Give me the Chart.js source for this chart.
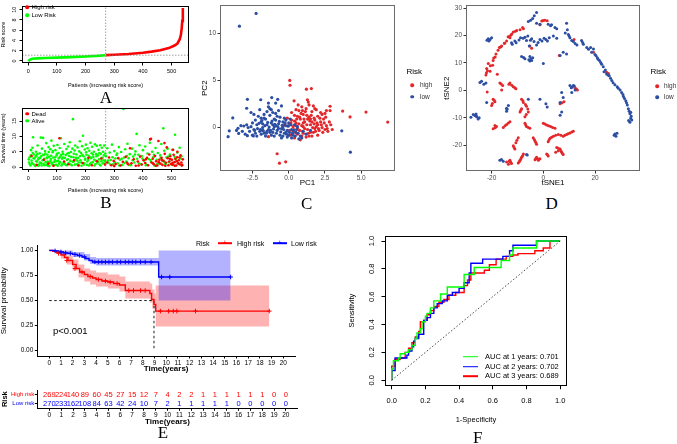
<!DOCTYPE html>
<html><head><meta charset="utf-8">
<script src="https://cdn.jsdelivr.net/npm/chart.js@4.4.1/dist/chart.umd.min.js"></script>
<style>
html,body{margin:0;padding:0;background:#fff}
body{width:677px;height:444px;position:relative;overflow:hidden;font-family:"Liberation Sans",Arial,sans-serif}
canvas{position:absolute}
.t{position:absolute;white-space:nowrap;line-height:1;transform:translateY(-50%)}
.lab{position:absolute;font-family:"Liberation Serif","Times New Roman",serif;font-size:17px;line-height:1;transform:translate(-50%,-50%)}
.dot{position:absolute;border-radius:50%;transform:translate(-50%,-50%)}
.ln{position:absolute;height:1.6px;transform:translateY(-50%)}
</style></head><body>
<canvas id="cA" style="left:0px;top:0px" width="200" height="90"></canvas>
<canvas id="cB" style="left:0px;top:98px" width="200" height="96"></canvas>
<canvas id="cC" style="left:195px;top:0px" width="205" height="190"></canvas>
<canvas id="cD" style="left:440px;top:0px" width="205" height="190"></canvas>
<canvas id="cE" style="left:0px;top:240px" width="300" height="133"></canvas>
<canvas id="cT" style="left:0px;top:386px" width="300" height="40"></canvas>
<canvas id="cF" style="left:345px;top:228px" width="228" height="197"></canvas>

<!-- A legend -->
<div class="dot" style="left:27.3px;top:7.3px;width:3.6px;height:3.6px;background:#ff0000"></div>
<div class="t" style="left:31.5px;top:7.3px;font-size:6px">High risk</div>
<div class="dot" style="left:27.3px;top:15px;width:3.6px;height:3.6px;background:#00ff00"></div>
<div class="t" style="left:31.5px;top:15px;font-size:6px">Low Risk</div>
<!-- B legend -->
<div class="dot" style="left:27.3px;top:113.7px;width:3.6px;height:3.6px;background:#ff0000"></div>
<div class="t" style="left:31.5px;top:113.7px;font-size:6px">Dead</div>
<div class="dot" style="left:27.3px;top:120.5px;width:3.6px;height:3.6px;background:#00ff00"></div>
<div class="t" style="left:31.5px;top:120.5px;font-size:6px">Alive</div>
<!-- C legend -->
<div class="t" style="left:406.5px;top:71.7px;font-size:8px">Risk</div>
<div class="dot" style="left:412px;top:85px;width:3.6px;height:3.6px;background:#e3282b"></div>
<div class="t" style="left:420px;top:85px;font-size:6.5px;color:#333">high</div>
<div class="dot" style="left:412px;top:96.7px;width:3.6px;height:3.6px;background:#2c4ea3"></div>
<div class="t" style="left:420px;top:96.7px;font-size:6.5px;color:#333">low</div>
<!-- D legend -->
<div class="t" style="left:650.5px;top:72px;font-size:8px">Risk</div>
<div class="dot" style="left:657px;top:86px;width:3.6px;height:3.6px;background:#e3282b"></div>
<div class="t" style="left:664px;top:86px;font-size:6.5px;color:#333">high</div>
<div class="dot" style="left:657px;top:97px;width:3.6px;height:3.6px;background:#2c4ea3"></div>
<div class="t" style="left:664px;top:97px;font-size:6.5px;color:#333">low</div>
<!-- E legend & p value -->
<div class="t" style="left:196px;top:243px;font-size:7px">Risk</div>
<div class="ln" style="left:218px;top:243px;width:14px;background:#ff0000"></div>
<div class="t" style="left:222.5px;top:243px;font-size:8px;color:#ff0000">+</div>
<div class="t" style="left:237px;top:243px;font-size:7px">High risk</div>
<div class="ln" style="left:273px;top:243px;width:14px;background:#0000ff"></div>
<div class="t" style="left:277.5px;top:243px;font-size:8px;color:#0000ff">+</div>
<div class="t" style="left:291px;top:243px;font-size:7px">Low risk</div>
<div class="t" style="left:53px;top:331px;font-size:9.5px">p&lt;0.001</div>
<!-- F legend -->
<div class="ln" style="left:462.7px;top:356.7px;width:15.6px;background:#00ff00"></div>
<div class="t" style="left:485px;top:356.7px;font-size:7.5px">AUC at 1 years: 0.701</div>
<div class="ln" style="left:462.7px;top:366.5px;width:15.6px;background:#0000ff"></div>
<div class="t" style="left:485px;top:366.5px;font-size:7.5px">AUC at 2 years: 0.702</div>
<div class="ln" style="left:462.7px;top:376px;width:15.6px;background:#ff0000"></div>
<div class="t" style="left:485px;top:376px;font-size:7.5px">AUC at 3 years: 0.689</div>
<!-- panel letters -->
<div class="lab" style="left:106px;top:97px">A</div>
<div class="lab" style="left:106px;top:202px">B</div>
<div class="lab" style="left:306.7px;top:203px">C</div>
<div class="lab" style="left:551.7px;top:203px">D</div>
<div class="lab" style="left:163px;top:432px">E</div>
<div class="lab" style="left:477.7px;top:437px">F</div>

<script>
// ---------------- DATA ----------------
// Panel A: risk score curve (patients sorted by risk score)
const lowRiskIdx   = [1,3,8,15,30,60,100,150,200,240,270];
const lowRiskScore = [-0.05,0.1,0.3,0.42,0.5,0.58,0.65,0.74,0.86,0.98,1.12];
const highRiskIdx   = [271,300,350,400,430,460,490,510,520,528,532,535,537,539];
const highRiskScore = [1.13,1.2,1.35,1.6,1.82,2.1,2.5,3.0,3.4,4.2,5.0,6.3,7.8,10.3];
const cutPatient = 270;
const cutScore = 1.12;
const patientTicks = [0,100,200,300,400,500];
const riskTicks = [0,2,4,6,8,10];
const survTicks = [0,5,10,15];

// Panel B: survival status (patient index, survival years)
const alivePts = [[3,1.5],[5,3.2],[8,0.5],[10,5.5],[12,2.1],[15,6.3],[17,9.7],[18,1.0],[20,4.1],[22,2.8],[25,0.3],[27,5.0],[29,3.6],[31,1.8],[33,7.0],[35,2.5],[38,0.8],[40,4.5],[42,3.0],[44,9.6],[46,1.2],[48,6.0],[50,2.2],[52,9.5],[55,3.9],[57,0.6],[59,5.2],[61,1.6],[63,7.8],[65,2.9],[67,4.0],[69,0.4],[71,6.5],[73,3.3],[75,1.4],[77,5.8],[79,2.6],[81,8.6],[83,0.9],[85,4.8],[87,3.1],[89,6.9],[91,1.7],[93,2.4],[95,5.5],[97,0.7],[99,3.8],[102,7.2],[104,2.0],[106,4.6],[108,1.1],[110,6.2],[112,3.4],[114,9.4],[116,0.5],[118,2.7],[120,5.0],[122,4.2],[124,1.5],[126,7.5],[128,3.0],[130,0.8],[133,5.9],[135,2.3],[137,4.4],[139,6.7],[141,1.3],[143,3.6],[145,8.1],[147,2.0],[149,4.9],[152,0.6],[154,6.0],[156,15.6],[158,3.2],[160,1.9],[162,5.4],[164,7.0],[166,2.6],[168,4.1],[170,0.9],[172,6.4],[174,3.0],[176,1.5],[178,5.1],[180,8.4],[182,2.2],[184,4.6],[186,0.4],[188,6.8],[191,10.2],[193,3.5],[195,1.2],[197,5.7],[199,2.8],[201,7.3],[203,4.0],[205,0.7],[207,6.1],[209,2.4],[211,3.7],[213,5.3],[215,1.0],[217,7.9],[219,2.9],[221,4.5],[223,6.6],[225,1.6],[227,3.3],[229,5.0],[231,0.5],[233,7.4],[235,2.1],[237,4.2],[239,6.9],[241,1.3],[243,3.8],[245,5.6],[247,2.5],[249,0.8],[251,7.1],[253,4.3],[255,1.9],[257,6.3],[259,3.0],[261,5.0],[263,2.2],[265,7.0],[267,1.1],[269,4.4],[272,3.5],[276,6.1],[280,1.4],[284,4.7],[288,2.3],[292,7.3],[296,0.9],[300,5.2],[304,2.8],[308,3.9],[312,1.2],[316,6.5],[320,2.4],[324,4.9],[328,0.7],[332,18.9],[334,3.1],[338,5.8],[342,1.8],[346,7.6],[350,2.9],[354,4.2],[358,0.6],[362,6.0],[366,3.4],[370,1.5],[374,5.1],[378,10.8],[380,2.7],[384,4.0],[388,7.1],[392,1.0],[396,3.6],[400,5.5],[404,2.1],[408,6.7],[412,0.8],[416,4.4],[420,2.6],[424,7.9],[428,1.7],[432,5.0],[436,3.2],[440,0.5],[444,6.2],[448,2.4],[452,4.6],[456,1.2],[460,3.8],[464,7.5],[468,2.0],[471,12.6],[474,5.3],[478,0.9],[482,3.1],[486,6.0],[490,1.6],[494,4.1],[498,2.5],[502,5.6],[506,0.7],[510,3.4],[512,10.5],[516,2.0],[520,4.7],[524,1.3],[528,6.3],[532,2.8],[536,0.6],
  [2,2.5],[6,0.9],[9,3.8],[13,1.3],[16,4.6],[19,2.9],[23,0.6],[26,3.4],[28,1.9],[32,4.2],[36,0.4],[37,2.9],[41,1.5],[45,3.5],[47,0.5],[51,4.0],[54,1.0],[56,2.7],[60,4.4],[64,0.7],[66,3.1],[68,1.8],[72,4.9],[74,0.3],[78,2.0],[80,3.7],[84,1.4],[86,5.2],[90,0.6],[94,3.2],[98,1.9],[100,4.3],[103,0.4],[107,2.9],[111,1.6],[115,4.0],[119,0.9],[121,3.1],[127,1.2],[131,3.9],[134,0.6],[138,2.5],[142,4.6],[146,0.9],[150,3.3],[155,1.7],[159,4.3],[163,0.8],[167,3.0],[171,2.1],[177,0.6],[181,3.6],[185,1.5],[189,4.0],[194,0.8],[198,2.4],[202,4.8],[206,1.8],[212,0.5],[216,3.2],[220,1.4],[226,4.1],[230,2.4],[234,0.9],[238,3.5],[244,1.7],[248,4.6],[252,0.5],[256,2.9],[260,1.2],[264,3.8],[268,2.0],[278,2.1],[286,0.8],[294,3.2],[302,1.6],[310,4.4],[318,0.5],[326,2.7],[336,1.3],[344,3.6],[352,0.7],[364,2.2],[372,4.1],[386,1.2],[398,2.8],[410,0.6],[426,2.3],[438,4.0],[450,1.0],[462,2.9],[476,1.6],[488,3.4],[500,0.8],[514,2.6],[526,1.0],[534,3.5]];
const deadPts = [[12,3.6],[30,0.7],[55,2.4],[70,1.1],[88,0.4],[109,9.4],[125,1.8],[140,0.9],[160,2.2],[175,0.5],[190,1.3],[210,3.0],[222,0.6],[240,1.9],[255,2.8],[268,0.8],[275,1.5],[282,3.1],[290,0.6],[298,2.0],[305,1.0],[314,2.9],[322,0.5],[330,1.7],[340,3.3],[348,0.9],[355,6.1],[360,1.2],[368,2.5],[375,0.4],[382,1.8],[390,3.4],[396,0.8],[402,2.2],[408,1.3],[414,3.0],[418,0.6],[422,4.1],[425,9.0],[428,9.2],[430,1.5],[434,2.7],[438,0.9],[442,3.6],[446,1.9],[450,0.5],[454,8.5],[457,2.4],[461,1.1],[465,3.0],[468,0.7],[472,2.0],[476,4.3],[480,1.4],[483,6.4],[486,2.9],[489,0.6],[492,1.8],[495,3.5],[498,1.0],[501,2.4],[504,0.8],[507,4.0],[510,1.6],[513,2.7],[516,0.5],[519,3.2],[522,1.2],[525,2.2],[528,0.9],[531,3.8],[534,1.5],[537,0.7],[539,2.5],
  [435,1.2],[445,0.4],[455,1.6],[466,2.3],[478,0.4],[494,2.6],[503,1.4],[511,0.4],[518,1.9],[527,3.1],[535,0.5],[520,5.0],[505,5.6],[475,7.8],[410,2.5],[385,0.5],[345,1.4],[300,0.3]];

// Panel C: PCA (PC1, PC2)
const pcaLow = [[-2.25,12.1],[-3.4,10.75],[-4.18,-0.96],[-4.1,-0.34],[-3.86,1.03],[-2.85,3.0],[-2.9,2.05],[-1.93,2.95],[-1.17,3.18],[-0.76,3.0],[-3.5,-0.07],[-3.45,-0.62],[-3.1,0.17],[-2.85,-0.86],[-2.44,-0.89],[3.66,-0.34],[4.25,-2.6],[-2.6,0.1],[-2.4,-0.2],[-2.2,0.3],[-2.0,-0.4],[-1.9,0.6],[-1.8,0.0],[-1.7,-0.6],[-1.6,0.9],[-1.5,0.3],[-1.4,-0.2],[-1.3,1.3],[-1.2,0.5],[-1.1,-0.5],[-1.0,0.1],[-0.9,0.8],[-0.8,-0.3],[-0.7,0.4],[-0.6,1.1],[-0.5,-0.1],[-0.4,0.6],[-0.3,-0.6],[-0.2,0.2],[-0.1,-0.3],[0.0,0.5],[0.2,-0.2],[0.3,-0.8],[0.5,-0.5],[0.7,-1.2],[0.8,-0.9],[1.0,-0.4],[1.2,-0.7],[-1.4,2.2],[-1.3,2.0],[-1.5,1.7],[-1.1,1.6],[-0.9,1.5],[-2.1,1.2],[-2.3,0.8],[-2.7,-0.4],[-2.9,0.3],[-3.2,-0.4],[-1.6,-0.9],[-1.2,-0.8],[-0.6,-0.8],[-0.4,-0.9],[-0.1,-1.0],[-1.8,0.4],[-1.0,0.9],[-0.8,1.2],[-0.3,1.0],[0.1,0.9],[-0.5,2.3],[-0.9,2.6],[-1.4,2.6],[-2.6,1.6],[-2.0,1.9],[-1.7,1.0],[0.4,0.3],[0.6,0.1],[1.5,-0.3],[-0.2,-0.5],[-1.9,-0.7],[-2.3,-0.6],[0.9,-1.1],[0.0,-0.8],[-1.1,0.3],[-1.5,-0.4],[-0.7,-0.1],[-1.3,-0.5],[-0.9,0.2],[-2.5,-0.8],[-1.8,-0.3],[-0.4,0.1],
  [-2.8,0.0],[-2.5,0.5],[-2.35,-0.3],[-2.15,-0.1],[-2.05,0.45],[-1.95,-0.2],[-1.85,0.75],[-1.75,-0.35],[-1.65,0.2],[-1.55,-0.6],[-1.45,0.55],[-1.35,0.05],[-1.25,-0.3],[-1.15,0.7],[-1.05,-0.15],[-0.95,0.35],[-0.85,-0.6],[-0.75,0.1],[-0.65,0.65],[-0.55,-0.45],[-0.45,0.25],[-0.35,-0.2],[-0.25,0.5],[-0.15,-0.7],[-0.05,0.15],[0.05,-0.5],[0.15,0.3],[0.25,-0.6],[0.35,-0.3],[0.45,-0.9],[0.55,-0.2],[0.65,-0.6],[-1.7,1.4],[-1.2,1.9],[-0.7,1.8],[-2.4,1.4],[-3.0,-0.7],[-3.3,0.2],[-3.6,-0.3],[-2.2,-0.9],[-1.0,-0.9],[-0.5,-1.1],[0.2,-1.1],[-1.9,1.0],[-0.2,0.8]];
const pcaHigh = [[0.07,5.0],[0.09,4.49],[1.22,4.07],[1.56,4.14],[0.37,2.84],[1.29,2.95],[1.35,2.7],[2.85,2.26],[2.85,1.8],[3.72,1.75],[4.23,1.13],[5.33,1.64],[6.83,0.58],[-0.8,-2.77],[-0.64,-3.77],[-0.21,-3.63],[-1.4,-0.96],[0.0,0.2],[0.2,0.8],[0.3,-0.4],[0.4,1.3],[0.5,0.5],[0.6,-0.1],[0.7,1.8],[0.8,0.9],[0.9,0.2],[1.0,1.4],[1.0,-0.6],[1.1,0.6],[1.2,2.0],[1.3,-0.2],[1.4,1.1],[1.5,0.3],[1.6,1.7],[1.7,-0.5],[1.8,0.8],[1.9,0.1],[2.0,1.2],[2.1,-0.3],[2.2,0.6],[2.3,0.0],[2.4,0.9],[2.6,0.2],[2.7,-0.4],[1.4,2.4],[1.7,2.3],[0.9,2.2],[0.5,1.9],[0.2,1.6],[0.1,-0.8],[0.4,-1.1],[0.8,-1.3],[1.2,-1.0],[1.6,-0.9],[2.0,-0.8],[0.6,-0.7],[1.9,1.9],[2.5,1.5],[0.3,0.1],[1.1,-0.1],[1.8,-0.1],[0.7,0.4],[1.3,0.9],[-0.1,1.0],[-0.3,0.3],[0.05,-0.3],[2.2,1.6],[1.5,-0.5],[0.9,-0.9],[1.6,0.6],[0.4,0.7],[2.9,0.3],[2.5,-0.2],[1.0,0.1],[0.6,1.2],
  [0.15,0.5],[0.35,-0.2],[0.55,0.9],[0.75,-0.3],[0.85,1.5],[0.95,-0.4],[1.05,0.9],[1.15,1.7],[1.25,0.3],[1.35,-0.6],[1.45,0.7],[1.55,1.3],[1.65,0.0],[1.75,1.0],[1.85,-0.4],[1.95,0.5],[2.05,-0.1],[2.15,1.0],[2.25,0.3],[2.35,-0.5],[2.45,0.5],[2.55,1.1],[2.65,-0.1],[2.8,0.6],[3.0,-0.2],[0.25,-0.7],[0.5,0.2],[0.75,1.1],[1.0,0.5],[1.25,1.3],[1.5,0.9],[1.75,0.4],[2.0,0.3],[0.45,-0.5],[0.95,1.8],[1.4,-0.9],[2.3,1.4],[0.65,2.4],[1.8,2.0],[2.6,1.8]];

// Panel D: t-SNE (tSNE1, tSNE2)
const tsneLow = [[-2.6,28.4],[-4.9,25.6],[-4.1,26.2],[-5.8,25.1],[-2.6,24.5],[-1.3,24.1],[1.9,24.1],[2.8,23.6],[4.5,22.9],[5.2,22.5],[9.0,24.5],[9.3,22.1],[9.7,20.4],[10.3,19.2],[11.0,18.2],[12.3,17.1],[14.8,18.2],[15.5,16.8],[16.8,15.6],[18.3,15.6],[19.4,15.1],[18.7,13.9],[20.0,13.1],[20.9,11.9],[21.7,10.9],[22.6,9.5],[23.2,8.6],[23.5,6.8],[24.5,6.0],[25.5,5.3],[26.5,3.6],[27.7,2.1],[28.6,1.3],[29.7,0.1],[30.3,-0.8],[31.0,-2.2],[31.9,-3.8],[32.5,-5.3],[32.9,-6.7],[33.5,-8.5],[33.8,-10.2],[33.5,-11.6],[27.7,-15.9],[28.1,-16.7],[27.4,-16.4],[-21.3,18.8],[-20.0,19.2],[-12.3,17.4],[-11.0,18.0],[-8.8,19.2],[-7.1,19.4],[-6.5,18.2],[-4.5,18.8],[-3.6,17.8],[-2.6,16.6],[-1.3,18.6],[1.0,18.6],[2.3,19.2],[3.9,19.8],[-5.4,16.2],[-8.4,12.4],[-7.1,11.5],[-5.2,12.4],[-4.5,10.9],[-4.1,11.9],[-5.2,10.7],[0.0,9.8],[6.5,12.7],[7.7,13.9],[9.0,13.3],[10.3,1.8],[11.6,1.8],[12.3,0.1],[11.0,-0.8],[7.1,-0.8],[7.7,-2.6],[6.5,-4.4],[-23.9,3.3],[-22.2,2.7],[-21.9,-4.4],[-27.1,-8.8],[-25.8,-9.6],[-24.8,-10.0],[-14.2,-6.5],[-13.5,-5.5],[-14.2,-7.6],[-5.8,-3.2],[-1.3,-3.2],[1.0,-4.9],[1.5,-6.1],[6.5,-9.1],[7.1,-7.9],[-16.8,-25.5],[-15.5,-25.8],[-6.5,-23.4],[29.0,0.8],[30.8,-1.5],[32.2,-4.5],[33.2,-7.6],[34.0,-9.4],[26.0,4.4],[24.0,7.4],[21.2,11.4],[17.5,15.0],[13.0,16.6],[8.5,20.9],[3.2,23.9],[-3.5,27.2],[-0.5,18.0],[5.2,19.0],[-9.4,18.4],[-21.0,18.0],[-23.0,2.2],[-26.5,-9.2],[-28.0,-9.8],[28.5,-15.6],[33.0,-11.0],
  [-21.8,18.3],[-20.6,18.6],[-12.0,16.8],[-10.5,17.4],[-7.8,19.0],[-6.0,19.8],[-5.0,18.3],[-2.0,17.5],[0.3,19.0],[1.6,18.0],[-7.6,12.0],[-4.8,11.5],[-5.6,11.2],[10.0,19.8],[11.6,17.8],[15.2,17.5],[20.4,12.6],[22.2,10.2],[25.0,5.6],[27.0,2.8],[31.4,-3.0],[33.8,-8.0],[34.2,-10.8],[-24.5,2.9],[-25.9,-9.3],[-25.2,-10.4],[-26.0,-8.6],[11.2,1.2],[12.0,1.6],[10.8,1.0],[-6.2,-23.6],[-16.2,-25.2],[-14.0,-6.9]];
const tsneHigh = [[-0.6,25.3],[0.6,25.6],[1.5,25.4],[-1.3,23.9],[11.9,18.6],[6.2,12.7],[19.4,13.9],[24.5,6.6],[25.2,6.2],[-7.7,22.5],[-9.0,22.1],[-10.3,21.8],[-11.6,21.3],[-12.6,20.1],[-12.9,19.2],[-14.2,18.0],[-16.1,16.2],[-17.0,15.6],[-18.3,13.3],[-19.4,10.9],[-19.6,9.2],[-21.3,9.8],[-21.9,8.0],[-22.2,5.6],[-17.8,5.9],[-5.2,16.2],[-4.5,15.4],[-16.8,2.7],[-15.7,1.8],[-12.9,2.7],[-11.6,1.3],[-10.6,0.6],[-16.1,0.1],[-19.4,-3.2],[-18.7,-4.1],[-20.0,-5.5],[-21.7,-0.6],[-8.4,-3.2],[-7.7,-4.4],[-6.5,-5.8],[-5.8,-7.9],[-7.1,-9.6],[-9.0,-7.9],[-8.4,-6.7],[-12.9,-11.4],[-14.2,-12.4],[-15.5,-13.5],[-18.1,-13.2],[-19.4,-14.0],[-18.7,-12.8],[-7.1,-12.0],[-6.5,-13.2],[-5.2,-13.8],[0.0,-12.0],[1.3,-12.6],[2.8,-13.2],[4.5,-13.8],[6.5,-4.9],[8.0,-4.1],[12.3,0.9],[13.2,0.1],[11.6,-14.9],[10.3,-15.5],[9.0,-16.1],[7.7,-16.7],[5.8,-16.1],[3.9,-16.7],[2.6,-17.5],[1.9,-18.7],[5.2,-20.8],[6.5,-21.4],[7.1,-22.6],[7.7,-23.4],[5.8,-22.0],[4.8,-22.6],[-3.9,-17.3],[-3.2,-18.5],[-2.6,-19.6],[-9.7,-17.3],[-10.6,-19.1],[-11.6,-20.2],[-11.0,-21.4],[-7.7,-23.2],[-8.4,-24.4],[-9.0,-25.5],[-9.7,-26.5],[-2.6,-24.4],[-1.9,-25.5],[-3.2,-25.3],[-1.3,-24.9],[1.3,-23.2],[1.9,-23.9],[-14.2,-26.1],[-12.9,-25.5],[-12.3,-26.7],[-13.5,-26.9],[-13.6,19.6],[-20.6,7.0],[-17.5,14.6],[-15.0,17.2],
  [-8.0,22.9],[-10.8,21.6],[-12.2,20.6],[-13.2,19.6],[-15.0,17.2],[-16.5,15.8],[-18.6,12.2],[-19.2,11.8],[-20.5,9.0],[-21.6,7.2],[-22.0,6.4],[-16.3,2.3],[-13.3,2.2],[-12.2,1.9],[-11.0,1.0],[-19.0,-3.6],[-19.7,-4.8],[-7.9,-3.8],[-6.9,-5.1],[-6.0,-6.8],[-6.6,-8.8],[-8.7,-7.2],[-13.5,-11.9],[-14.8,-12.9],[-18.6,-13.6],[-6.8,-12.6],[-5.8,-13.5],[0.6,-12.3],[2.0,-12.9],[3.6,-13.5],[11.0,-15.2],[9.6,-15.8],[8.3,-16.4],[6.8,-16.4],[4.8,-16.4],[3.2,-17.1],[2.2,-18.1],[5.8,-21.1],[6.8,-22.0],[7.4,-23.0],[-3.5,-17.9],[-2.9,-19.0],[-10.2,-18.2],[-11.3,-20.8],[-8.0,-23.8],[-8.7,-25.0],[-9.3,-26.0],[-2.2,-24.9],[-2.9,-24.8],[1.6,-23.5],[-13.2,-25.8],[-12.6,-26.2],[-0.1,25.5],[12.8,0.5],[7.2,-4.5]];

// Panel E: Kaplan-Meier (time in years, survival probability)
const kmHigh = [[0,1],[0.3,0.99],[0.6,0.98],[1,0.955],[1.3,0.93],[1.6,0.9],[2,0.86],[2.3,0.82],[2.6,0.785],[3,0.76],[3.3,0.74],[3.7,0.725],[4,0.71],[4.5,0.695],[5,0.685],[5.5,0.67],[6,0.655],[6.5,0.6],[8.6,0.57],[8.75,0.51],[8.95,0.46],[9.1,0.395],[18.8,0.395]];
const kmHighUpper = [[0,1],[1,0.99],[1.5,0.95],[2,0.91],[2.5,0.86],[3,0.82],[3.5,0.8],[4,0.78],[5,0.76],[6,0.74],[6.5,0.69],[8.6,0.67],[8.8,0.61],[9.0,0.57],[9.1,0.65],[18.8,0.65]];
const kmHighLower = [[0,0.99],[1,0.92],[1.5,0.86],[2,0.8],[2.5,0.73],[3,0.69],[3.5,0.66],[4,0.64],[5,0.62],[6,0.59],[6.5,0.52],[8.6,0.48],[8.8,0.42],[9.0,0.38],[9.1,0.24],[18.8,0.24]];
const kmLow = [[0,1],[0.4,0.995],[0.8,0.985],[1.2,0.975],[1.6,0.97],[2,0.96],[2.4,0.95],[2.8,0.935],[3.1,0.92],[3.4,0.9],[3.7,0.885],[9.35,0.735],[15.5,0.735]];
const kmLowUpper = [[0,1],[1,1],[2,0.985],[3,0.965],[3.5,0.935],[4,0.925],[9.35,1.0],[15.5,1.0]];
const kmLowLower = [[0,0.99],[1,0.955],[2,0.935],[3,0.9],[3.5,0.865],[4,0.85],[9.35,0.5],[15.5,0.5]];
const censorHigh = [[0.8,0.97],[1.5,0.9],[2.2,0.82],[2.8,0.785],[3.5,0.74],[4.2,0.71],[4.8,0.695],[5.2,0.685],[5.8,0.67],[6.8,0.6],[7.2,0.6],[7.8,0.6],[8.2,0.6],[9.5,0.395],[10.2,0.395],[10.6,0.395],[10.9,0.395],[12.5,0.395],[18.8,0.395]];
const censorLow = [[0.5,0.995],[1.0,0.985],[1.4,0.975],[1.8,0.97],[2.2,0.96],[2.6,0.95],[3.0,0.935],[3.9,0.885],[4.2,0.885],[4.5,0.885],[4.8,0.885],[5.1,0.885],[5.4,0.885],[5.8,0.885],[6.1,0.885],[6.5,0.885],[6.8,0.885],[7.1,0.885],[7.4,0.885],[7.8,0.885],[8.2,0.885],[8.7,0.885],[9.6,0.735],[10.3,0.735],[15.5,0.735]];
const medianTime = 8.95;
const timeTicks = [0,1,2,3,4,5,6,7,8,9,10,11,12,13,14,15,16,17,18,19,20];
const survProbTicks = [0,0.25,0.5,0.75,1];
const survProbLabels = ['0.00','0.25','0.50','0.75','1.00'];
const riskGroups = ['High risk','Low risk'];
const atRiskHigh = [269,224,140,89,60,45,27,15,12,7,4,2,2,1,1,1,1,1,1,0,0];
const atRiskLow  = [270,233,162,108,84,63,42,24,10,7,2,1,1,1,1,1,0,0,0,0,0];

// Panel C/D ticks
const pcaXTicks = [-2.5,0,2.5,5];
const pcaXLabels = ['-2.5','0.0','2.5','5.0'];
const pcaYTicks = [0,5,10];
const tsneXTicks = [-20,0,20];
const tsneYTicks = [-20,-10,0,10,20,30];

// Panel F: time-dependent ROC (1-specificity, sensitivity)
const roc1 = [[0,0],[0,0.08],[0.01,0.14],[0.04,0.16],[0.05,0.19],[0.08,0.2],[0.1,0.22],[0.12,0.25],[0.14,0.3],[0.15,0.34],[0.17,0.37],[0.18,0.42],[0.2,0.46],[0.21,0.48],[0.23,0.52],[0.25,0.57],[0.29,0.57],[0.29,0.62],[0.33,0.62],[0.33,0.67],[0.42,0.67],[0.43,0.76],[0.48,0.76],[0.49,0.81],[0.64,0.81],[0.65,0.86],[0.68,0.86],[0.7,0.9],[0.72,0.95],[0.86,0.95],[0.86,1.0],[1,1]];
const roc2 = [[0,0],[0,0.07],[0.02,0.12],[0.02,0.16],[0.06,0.16],[0.09,0.18],[0.1,0.21],[0.12,0.24],[0.13,0.28],[0.14,0.3],[0.16,0.33],[0.18,0.33],[0.19,0.43],[0.21,0.45],[0.23,0.48],[0.25,0.52],[0.27,0.55],[0.3,0.57],[0.33,0.61],[0.36,0.63],[0.4,0.66],[0.43,0.7],[0.46,0.77],[0.47,0.84],[0.54,0.87],[0.6,0.87],[0.66,0.89],[0.7,0.93],[0.72,0.97],[0.86,0.97],[0.86,1],[1,1]];
const roc3 = [[0,0],[0,0.1],[0.02,0.15],[0.05,0.16],[0.08,0.2],[0.1,0.23],[0.12,0.27],[0.14,0.31],[0.16,0.35],[0.17,0.42],[0.19,0.43],[0.21,0.47],[0.23,0.5],[0.25,0.53],[0.28,0.56],[0.31,0.58],[0.34,0.61],[0.38,0.63],[0.41,0.63],[0.43,0.68],[0.45,0.72],[0.47,0.77],[0.52,0.77],[0.55,0.79],[0.58,0.83],[0.62,0.87],[0.66,0.87],[0.68,0.89],[0.72,0.9],[0.75,0.91],[0.85,0.93],[0.9,0.95],[0.94,0.97],[0.94,1.0],[1,1]];
const rocTicks = [0,0.2,0.4,0.6,0.8,1.0];
const rocLabels = ['0.0','0.2','0.4','0.6','0.8','1.0'];

// ---------------- RENDER ----------------
const FONT = '"Liberation Sans", Arial, Helvetica, sans-serif';
Chart.defaults.font.family = FONT;
Chart.defaults.color = '#000';
const xy = a => a.map(p => ({x: p[0], y: p[1]}));

const boxPlug = {id:'box', afterDraw(ch, a, o){
  if(!o || !o.color) return;
  const {left, top, right, bottom} = ch.chartArea, c = ch.ctx;
  c.save(); c.strokeStyle = o.color; c.lineWidth = o.width || 1;
  c.strokeRect(Math.round(left)+0.5, Math.round(top)+0.5, Math.round(right)-Math.round(left)-1, Math.round(bottom)-Math.round(top)-1);
  c.restore();
}};
const rotPlug = {id:'rotY', afterDraw(ch, a, o){
  if(!o || o.x === undefined) return;
  const s = ch.scales.y, c = ch.ctx;
  c.save(); c.font = o.font; c.fillStyle = o.color || '#000'; c.textAlign = 'center'; c.textBaseline = 'middle';
  s.ticks.forEach((t, i) => {
    c.save(); c.translate(o.x, s.getPixelForTick(i)); c.rotate(-Math.PI/2);
    c.fillText(o.labels[i], 0, 0); c.restore();
  });
  c.restore();
}};
const tablePlug = {id:'tbl', afterDraw(ch, a, o){
  if(!o || !o.rows) return;
  const x = ch.scales.x, y = ch.scales.y, c = ch.ctx;
  c.save(); c.font = o.font; c.textAlign = 'center'; c.textBaseline = 'middle';
  o.rows.forEach(r => {
    const py = y.getPixelForValue(r.idx);
    c.fillStyle = r.color;
    r.vals.forEach((v, i) => c.fillText(String(v), x.getPixelForValue(timeTicks[i]), py));
  });
  c.restore();
}};

function axis(o){
  const ax = {
    type: o.type || 'linear', position: o.pos,
    afterFit: s => { if (o.pos === 'bottom') s.height = o.size; else s.width = o.size; },
    ticks: { display: true, font: {size: o.fs}, color: o.tc || '#000', padding: o.tp, autoSkip: false, maxRotation: 0, minRotation: 0 },
    grid: { drawOnChartArea: false, drawTicks: true, tickLength: o.tl, color: o.gc || '#000', tickColor: o.gc || '#000', tickWidth: 1 },
    border: { display: o.border !== false, color: o.gc || '#000', width: 1 },
    title: { display: !!o.title, text: o.title, font: {size: o.tfs, weight: o.tw || 'normal', lineHeight: 1}, color: '#000', padding: {top: o.tpad || 0, bottom: o.tpad || 0} }
  };
  if (o.min !== undefined) { ax.min = o.min; ax.max = o.max; }
  if (o.ticks) {
    ax.afterBuildTicks = s => { s.ticks = o.ticks.map(v => ({value: v})); };
    ax.ticks.callback = (v, i) => (o.labels ? o.labels[i] : String(o.ticks[i]));
  }
  if (o.labelsCat) ax.labels = o.labelsCat;
  if (o.tcolor) ax.ticks.color = o.tcolor;
  if (o.hideLabels) ax.ticks.color = 'rgba(0,0,0,0)';
  if (o.offset !== undefined) ax.offset = o.offset;
  return ax;
}
function base(padding, scales, plugins){
  return { responsive: false, animation: false, devicePixelRatio: 1, events: [],
    layout: {padding}, scales,
    plugins: Object.assign({legend: {display: false}, tooltip: {enabled: false}}, plugins || {}) };
}
const ptDs = (arr, col, r) => ({data: xy(arr), showLine: false, pointRadius: r, pointBackgroundColor: col, pointBorderWidth: 0, pointHoverRadius: 0});
const lineDs = (arr, col, w, extra) => Object.assign({data: xy(arr), borderColor: col, borderWidth: w, pointRadius: 0, fill: false, tension: 0}, extra || {});

// ---- Panel A ----
new Chart(document.getElementById('cA'), {
  type: 'line',
  data: { datasets: [
    lineDs([[-21.5, cutScore],[560.5, cutScore]], '#888', 0.8, {borderDash: [1.5,1.5]}),
    lineDs([[cutPatient, -0.4],[cutPatient, 10.65]], '#888', 0.8, {borderDash: [1.5,1.5]}),
    lineDs(lowRiskIdx.map((v,i)=>[v, lowRiskScore[i]]), '#00ff00', 2.6),
    lineDs(highRiskIdx.map((v,i)=>[v, highRiskScore[i]]), '#ff0000', 2.6)
  ]},
  options: base({left:0, top:0.5, right:11, bottom:2}, {
    x: axis({pos:'bottom', min:-21.5, max:560.5, size:25, fs:5.5, tl:2.5, tp:3, ticks:patientTicks, title:'Patients (increasing risk score)', tfs:5.5, border:false}),
    y: axis({pos:'left', min:-0.4, max:10.65, size:22, fs:5.5, tl:2.5, tp:3, ticks:riskTicks, hideLabels:true, title:'Risk score', tfs:5.5, tpad:1, border:false})
  }, {box: {color:'#000', width:1}, rotY: {x:14, font:'5.5px '+FONT, labels: riskTicks.map(String)}}),
  plugins: [boxPlug, rotPlug]
});

// ---- Panel B ----
new Chart(document.getElementById('cB'), {
  type: 'line',
  data: { datasets: [
    lineDs([[cutPatient, -0.8],[cutPatient, 19.4]], '#888', 0.8, {borderDash: [1.5,1.5]}),
    ptDs(deadPts, '#ff0000', 1.3),
    ptDs(alivePts, '#00ff00', 1.3)
  ]},
  options: base({left:0, top:9.5, right:11, bottom:1}, {
    x: axis({pos:'bottom', min:-21.5, max:560.5, size:23.5, fs:5.5, tl:2.5, tp:3, ticks:patientTicks, title:'Patients (increasing risk score)', tfs:5.5, border:false}),
    y: axis({pos:'left', min:-0.8, max:19.4, size:22, fs:5.5, tl:2.5, tp:3, ticks:survTicks, hideLabels:true, title:'Survival time (years)', tfs:5.5, tpad:1, border:false})
  }, {box: {color:'#000', width:1}, rotY: {x:14, font:'5.5px '+FONT, labels: survTicks.map(String)}}),
  plugins: [boxPlug, rotPlug]
});

// ---- Panel C ----
new Chart(document.getElementById('cC'), {
  type: 'line',
  data: { datasets: [ ptDs(pcaLow, '#2c4ea3', 1.6), ptDs(pcaHigh, '#e3282b', 1.6) ]},
  options: base({left:0, top:0.5, right:5, bottom:3}, {
    x: axis({pos:'bottom', min:-4.74, max:7.33, size:16, fs:6.5, tc:'#4d4d4d', gc:'#333', tl:2.5, tp:1, ticks:pcaXTicks, labels:pcaXLabels, title:'PC1', tfs:8, border:false}),
    y: axis({pos:'left', min:-4.6, max:12.95, size:25, fs:6.5, tc:'#4d4d4d', gc:'#333', tl:2.5, tp:1.5, ticks:pcaYTicks, title:'PC2', tfs:8, tpad:6, border:false})
  }, {box: {color:'#6b6b6b', width:1}}),
  plugins: [boxPlug]
});

// ---- Panel D ----
new Chart(document.getElementById('cD'), {
  type: 'line',
  data: { datasets: [ ptDs(tsneLow, '#2c4ea3', 1.5), ptDs(tsneHigh, '#e3282b', 1.5) ]},
  options: base({left:0, top:0.5, right:5, bottom:3}, {
    x: axis({pos:'bottom', min:-29.9, max:37.4, size:16, fs:6.5, tc:'#4d4d4d', gc:'#333', tl:2.5, tp:1, ticks:tsneXTicks, title:'tSNE1', tfs:8, border:false}),
    y: axis({pos:'left', min:-29.4, max:31, size:26, fs:6.5, tc:'#4d4d4d', gc:'#333', tl:2.5, tp:1.5, ticks:tsneYTicks, title:'tSNE2', tfs:8, tpad:3, border:false})
  }, {box: {color:'#6b6b6b', width:1}}),
  plugins: [boxPlug]
});

// ---- Panel E: KM curves ----
const bandStyle = (col) => ({pointRadius: 0, borderWidth: 0, borderColor: 'rgba(0,0,0,0)', stepped: 'before', order: 10, backgroundColor: col});
new Chart(document.getElementById('cE'), {
  type: 'line',
  data: { datasets: [
    Object.assign({data: xy(kmLowUpper), fill: '+1'}, bandStyle('rgba(0,0,255,0.3)')),
    Object.assign({data: xy(kmLowLower), fill: false}, bandStyle('rgba(0,0,255,0.3)')),
    Object.assign({data: xy(kmHighUpper), fill: '+1'}, bandStyle('rgba(255,0,0,0.3)')),
    Object.assign({data: xy(kmHighLower), fill: false}, bandStyle('rgba(255,0,0,0.3)')),
    lineDs([[0,0.5],[medianTime,0.5],[medianTime,0]], '#000', 0.9, {borderDash:[2.5,2.5], order: 3}),
    lineDs(kmLow, '#0000ff', 1.4, {stepped: 'before', order: 2}),
    lineDs(kmHigh, '#ff0000', 1.4, {stepped: 'before', order: 2}),
    {data: xy(censorLow), showLine: false, pointStyle: 'cross', pointRadius: 2.3, borderColor: '#0000ff', pointBorderColor: '#0000ff', pointBorderWidth: 1, order: 1},
    {data: xy(censorHigh), showLine: false, pointStyle: 'cross', pointRadius: 2.3, borderColor: '#ff0000', pointBorderColor: '#ff0000', pointBorderWidth: 1, order: 1}
  ]},
  options: base({left:0, top:5, right:2.3, bottom:0.7}, {
    x: axis({pos:'bottom', min:-1.02, max:21, size:16.3, fs:6.5, tl:2.5, tp:1, ticks:timeTicks, title:'Time(years)', tfs:8, tw:'bold'}),
    y: axis({pos:'left', min:-0.053, max:1.05, size:37.3, fs:6.5, tl:2.5, tp:1.5, ticks:survProbTicks, labels:survProbLabels, title:'Survival probability', tfs:8, tpad:0})
  }),
  plugins: []
});

// ---- Panel E: risk table ----
new Chart(document.getElementById('cT'), {
  type: 'line',
  data: { datasets: [{data: [], pointRadius: 0}] },
  options: base({left:0, top:4, right:2.3, bottom:0}, {
    x: axis({pos:'bottom', min:-1.02, max:21, size:17.7, fs:6.5, tl:2.5, tp:0.5, ticks:timeTicks, title:'Time(years)', tfs:8, tw:'bold'}),
    y: axis({pos:'left', type:'category', labelsCat: riskGroups, offset:true, size:37.3, fs:6, tl:2.5, tp:0.5, tcolor: c => (c.index === 0 ? '#ff0000' : '#0000ff'), title:'Risk', tfs:7.5, tw:'bold', tpad:1})
  }, {tbl: {font: '7.5px '+FONT, rows: [{idx:0, color:'#ff0000', vals: atRiskHigh}, {idx:1, color:'#0000ff', vals: atRiskLow}]}}),
  plugins: [tablePlug]
});

// ---- Panel F: ROC ----
new Chart(document.getElementById('cF'), {
  type: 'line',
  data: { datasets: [
    lineDs([[0,0],[1,1]], '#333', 0.9, {borderDash:[1.5,2]}),
    lineDs(roc1, '#00ff00', 1.4, {stepped: 'before'}),
    lineDs(roc2, '#0000ff', 1.4, {stepped: 'before'}),
    lineDs(roc3, '#ff0000', 1.4, {stepped: 'before'})
  ]},
  options: base({left:0, top:4.6, right:5.3, bottom:1.25}, {
    x: axis({pos:'bottom', min:-0.04, max:1.04, size:38, fs:7.5, tl:3.5, tp:7.5, ticks:rocTicks, labels:rocLabels, title:'1-Specificity', tfs:7.5, border:false}),
    y: axis({pos:'left', min:-0.04, max:1.04, size:40, fs:7.5, tl:3.5, tp:3, ticks:rocTicks, hideLabels:true, title:'Sensitivity', tfs:7.5, tpad:3, border:false})
  }, {box: {color:'#000', width:1}, rotY: {x:26.7, font:'7.5px '+FONT, labels: rocLabels}}),
  plugins: [boxPlug, rotPlug]
});
</script>
</body></html>
